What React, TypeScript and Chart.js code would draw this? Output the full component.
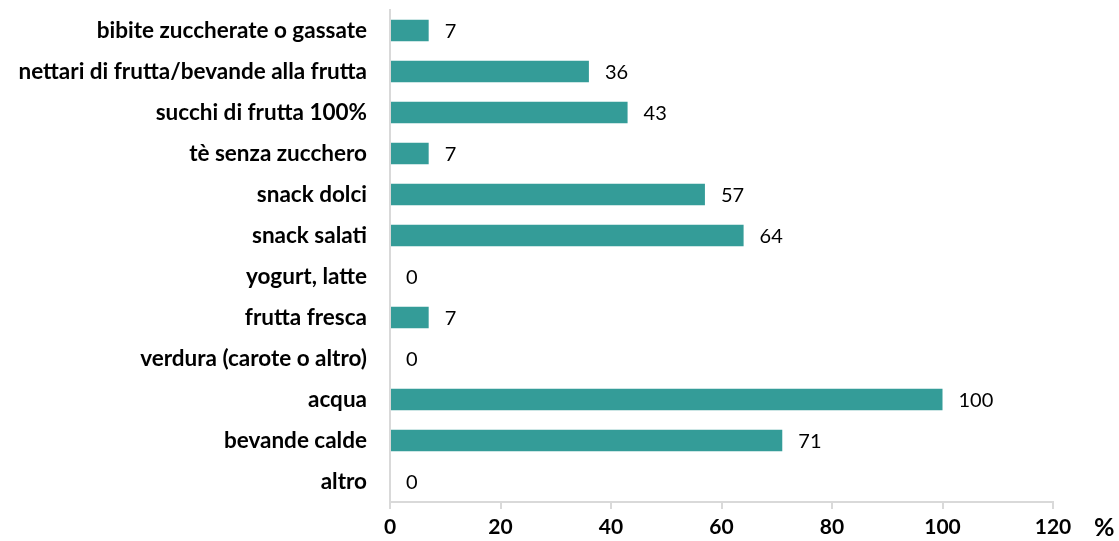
import React, { useEffect, useRef } from "react";
import { Chart, registerables } from "chart.js";

Chart.register(...registerables);

const categories = [
  "bibite zuccherate o gassate",
  "nettari di frutta/bevande alla frutta",
  "succhi di frutta 100%",
  "tè senza zucchero",
  "snack dolci",
  "snack salati",
  "yogurt, latte",
  "frutta fresca",
  "verdura (carote o altro)",
  "acqua",
  "bevande calde",
  "altro",
];
const values = [7, 36, 43, 7, 57, 64, 0, 7, 0, 100, 71, 0];
const xTicks = [0, 20, 40, 60, 80, 100, 120];
const unitLabel = "%";

const FONT = "Lato, sans-serif";

const valueLabels = {
  id: "valueLabels",
  afterDatasetsDraw(chart: any) {
    const ctx = chart.ctx;
    const meta = chart.getDatasetMeta(0);
    ctx.save();
    ctx.font = `20px ${FONT}`;
    ctx.fillStyle = "#000";
    ctx.textAlign = "left";
    ctx.textBaseline = "middle";
    meta.data.forEach((bar: any, i: number) => {
      ctx.fillText(String(values[i]), bar.x + 16, bar.y + 1);
    });
    ctx.font = `bold 25px ${FONT}`;
    ctx.fillText(unitLabel, 1094, 528);
    ctx.restore();
  },
};

export default function App() {
  const ref = useRef<HTMLCanvasElement>(null);
  useEffect(() => {
    if (!ref.current) return;
    const chart = new Chart(ref.current, {
      type: "bar",
      data: {
        labels: categories,
        datasets: [
          {
            data: values,
            backgroundColor: "#349c98",
            borderWidth: 0,
            categoryPercentage: 1,
            barPercentage: 0.53,
          },
        ],
      },
      options: {
        indexAxis: "y",
        animation: false,
        responsive: true,
        maintainAspectRatio: false,
        layout: { padding: { top: 10, right: 66, left: 0, bottom: 0 } },
        plugins: { legend: { display: false }, tooltip: { enabled: false } },
        scales: {
          x: {
            min: 0,
            max: 120,
            afterBuildTicks(axis: any) {
              axis.ticks = xTicks.map((v) => ({ value: v }));
            },
            afterFit(axis: any) {
              axis.height = 39;
              axis.paddingLeft = 0;
              axis.paddingRight = 0;
            },
            grid: {
              display: true,
              drawOnChartArea: false,
              drawTicks: true,
              tickLength: 7,
              color: "#d9d9d9",
              lineWidth: 2,
            },
            border: { display: true, color: "#d9d9d9", width: 2 },
            ticks: {
              color: "#000",
              font: { family: FONT, size: 21, weight: "bold" },
              padding: 6,
              maxRotation: 0,
            },
          },
          y: {
            afterFit(axis: any) {
              axis.width = 390;
              axis.paddingTop = 0;
              axis.paddingBottom = 0;
            },
            grid: { display: false, drawTicks: false },
            border: { display: true, color: "#d9d9d9", width: 2 },
            ticks: {
              color: "#000",
              font: { family: FONT, size: 22.5, weight: "bold" },
              padding: 23,
              autoSkip: false,
            },
          },
        },
      },
      plugins: [valueLabels],
    });
    return () => chart.destroy();
  }, []);
  return (
    <div style={{ position: "fixed", left: 0, top: 0, width: 1119, height: 541, background: "#fff" }}>
      <canvas ref={ref} />
    </div>
  );
}
